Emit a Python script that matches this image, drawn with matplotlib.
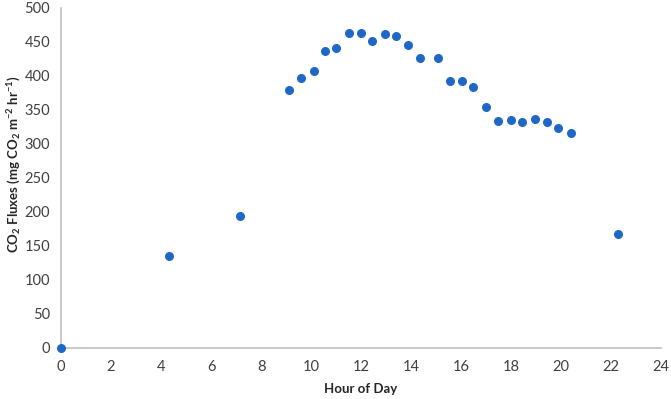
import matplotlib
matplotlib.use("Agg")
import matplotlib.pyplot as plt

# hour of day and measured flux
hours = [0, 4.3, 7.15, 9.1, 9.6, 10.1, 10.55, 11.0, 11.5, 12.0, 12.45, 12.95,
         13.4, 13.9, 14.35, 15.1, 15.55, 16.05, 16.5, 17.0, 17.5, 18.0, 18.45,
         18.95, 19.45, 19.9, 20.4, 22.3]
flux = [0, 135, 194, 379, 397, 408, 436, 441, 463, 463, 452, 461,
        459, 446, 427, 427, 393, 393, 384, 354, 334, 335, 332,
        336, 332, 324, 316, 167]

x_ticks = list(range(0, 25, 2))
y_ticks = list(range(0, 501, 50))

plt.rcParams['font.family'] = ['Lato', 'DejaVu Sans']
plt.rcParams['mathtext.fontset'] = 'custom'
plt.rcParams['mathtext.rm'] = 'Lato:bold'
plt.rcParams['mathtext.it'] = 'Lato:bold'
plt.rcParams['mathtext.bf'] = 'Lato:bold'

fig = plt.figure(figsize=(6.71, 3.99), dpi=100)
ax = fig.add_axes([0.091, 0.128, 0.894, 0.852])

ax.scatter(hours, flux, s=30, color='#1f67c7', zorder=3, clip_on=False)

ax.set_xlim(0, 24)
ax.set_ylim(0, 500)
ax.set_xticks(x_ticks)
ax.set_yticks(y_ticks)
ax.tick_params(length=0, labelsize=10.5, colors='#404040')
ax.tick_params(axis='x', pad=9)
ax.tick_params(axis='y', pad=8)

for side in ['top', 'right']:
    ax.spines[side].set_visible(False)
for side in ['left', 'bottom']:
    ax.spines[side].set_color('#bfbfbf')
    ax.spines[side].set_linewidth(1.2)

ax.set_xlabel('Hour of Day', fontsize=9.5, fontweight='bold', color='#262626', labelpad=6)
ax.set_ylabel(r'CO$_2$ Fluxes (mg CO$_2$ m$^{-2}$ hr$^{-1}$)', fontsize=9.5,
              fontweight='bold', color='#262626')
ax.yaxis.set_label_coords(-0.063, 0.54)

fig.savefig('out.png', dpi=100)
